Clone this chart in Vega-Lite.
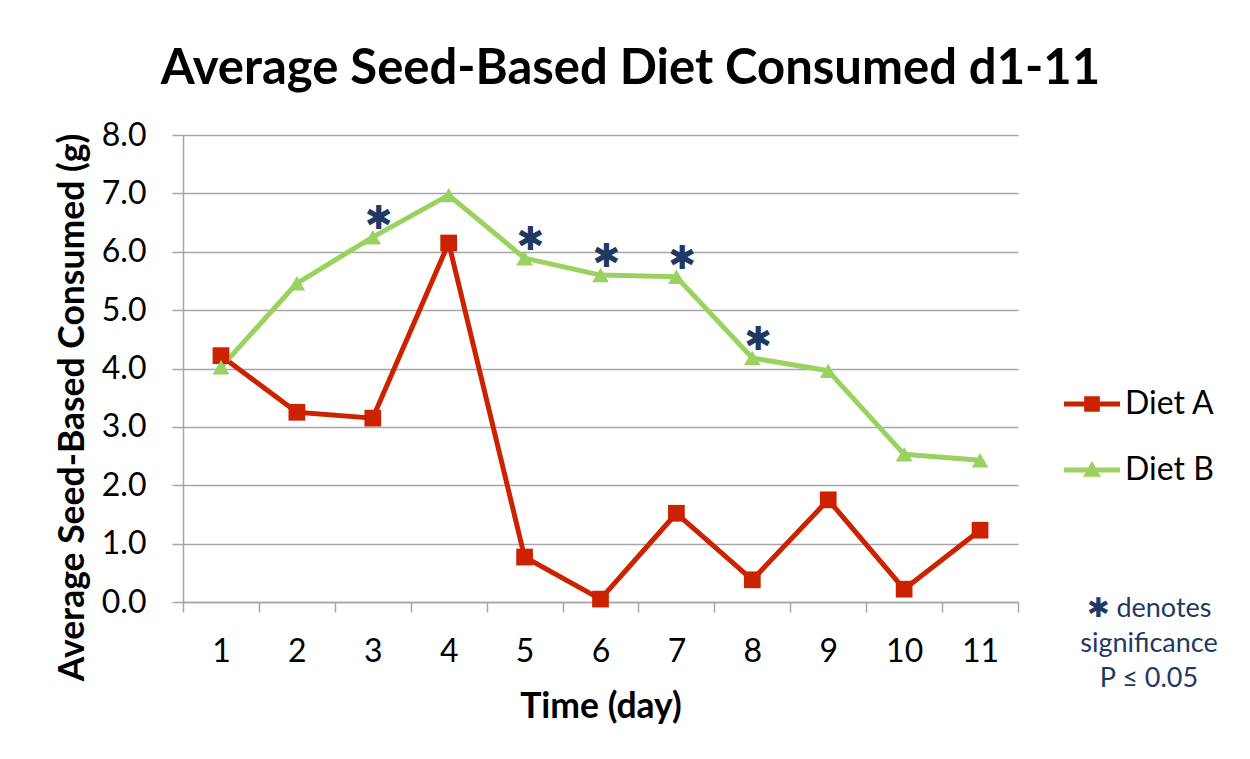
{
  "$schema": "https://vega.github.io/schema/vega-lite/v6.json",
  "width": 835,
  "height": 467,
  "autosize": {"type": "none"},
  "padding": {"left": 183, "top": 135, "right": 232, "bottom": 157},
  "background": "white",
  "config": {
    "font": "Lato",
    "view": {"stroke": null},
    "axis": {
      "gridColor": "#A6A6A6", "gridWidth": 1.5,
      "domainColor": "#A6A6A6", "domainWidth": 1.5,
      "tickColor": "#A6A6A6", "tickWidth": 1.5,
      "labelFont": "Lato", "labelFontSize": 32, "labelColor": "#000000",
      "titleFont": "Lato", "titleFontSize": 35.5, "titleFontWeight": "bold", "titleColor": "#000000"
    }
  },
  "title": {
    "text": "Average Seed-Based Diet Consumed d1-11",
    "font": "Lato", "fontSize": 49, "fontWeight": "bold", "color": "#000000",
    "anchor": "middle", "dx": 30, "baseline": "alphabetic", "offset": -14
  },
  "datasets": {
    "diets": [
      {"day": 1, "diet": "Diet A", "g": 4.22},
      {"day": 2, "diet": "Diet A", "g": 3.25},
      {"day": 3, "diet": "Diet A", "g": 3.15},
      {"day": 4, "diet": "Diet A", "g": 6.15},
      {"day": 5, "diet": "Diet A", "g": 0.77},
      {"day": 6, "diet": "Diet A", "g": 0.05},
      {"day": 7, "diet": "Diet A", "g": 1.52},
      {"day": 8, "diet": "Diet A", "g": 0.38},
      {"day": 9, "diet": "Diet A", "g": 1.75},
      {"day": 10, "diet": "Diet A", "g": 0.22},
      {"day": 11, "diet": "Diet A", "g": 1.23},
      {"day": 1, "diet": "Diet B", "g": 4.02},
      {"day": 2, "diet": "Diet B", "g": 5.46},
      {"day": 3, "diet": "Diet B", "g": 6.25},
      {"day": 4, "diet": "Diet B", "g": 6.97},
      {"day": 5, "diet": "Diet B", "g": 5.89},
      {"day": 6, "diet": "Diet B", "g": 5.60},
      {"day": 7, "diet": "Diet B", "g": 5.57},
      {"day": 8, "diet": "Diet B", "g": 4.18},
      {"day": 9, "diet": "Diet B", "g": 3.96},
      {"day": 10, "diet": "Diet B", "g": 2.53},
      {"day": 11, "diet": "Diet B", "g": 2.43}
    ],
    "stars": [
      {"day": 3, "g": 6.25, "note": "✱ denotes|significance|P ≤ 0.05"},
      {"day": 5, "g": 5.89, "note": "✱ denotes|significance|P ≤ 0.05"},
      {"day": 6, "g": 5.60, "note": "✱ denotes|significance|P ≤ 0.05"},
      {"day": 7, "g": 5.57, "note": "✱ denotes|significance|P ≤ 0.05"},
      {"day": 8, "g": 4.18, "note": "✱ denotes|significance|P ≤ 0.05"}
    ]
  },
  "encoding": {
    "x": {
      "field": "day", "type": "ordinal",
      "scale": {"type": "band", "paddingInner": 0, "paddingOuter": 0, "domain": [1,2,3,4,5,6,7,8,9,10,11]},
      "axis": {
        "title": "Time (day)", "labelAngle": 0, "tickBand": "extent", "tickSize": 10,
        "labelPadding": 24, "grid": false,
        "titleY": 115, "titleBaseline": "alphabetic"
      }
    },
    "y": {
      "field": "g", "type": "quantitative",
      "scale": {"domain": [0, 8], "nice": false},
      "axis": {
        "title": "Average Seed-Based Consumed (g)",
        "values": [0,1,2,3,4,5,6,7,8], "format": ".1f",
        "tickSize": 11, "labelPadding": 26, "grid": true,
        "titleX": -100, "titleY": 272, "titleAlign": "center", "titleBaseline": "alphabetic", "titleAngle": -90
      }
    }
  },
  "layer": [
    {
      "data": {"name": "diets"},
      "mark": {"type": "line", "strokeWidth": 5, "strokeJoin": "round", "strokeCap": "round"},
      "encoding": {
        "color": {"field": "diet", "type": "nominal", "scale": {"domain": ["Diet A", "Diet B"], "range": ["#CC2200", "#9BD160"]}, "legend": null}
      }
    },
    {
      "data": {"name": "diets"},
      "mark": {"type": "point", "filled": true, "opacity": 1, "size": 280},
      "encoding": {
        "color": {"field": "diet", "type": "nominal", "scale": {"domain": ["Diet A", "Diet B"], "range": ["#CC2200", "#9BD160"]}, "legend": null},
        "shape": {"field": "diet", "type": "nominal", "scale": {"domain": ["Diet A", "Diet B"], "range": ["square", "triangle-up"]}, "legend": null}
      }
    },
    {
      "data": {"name": "diets"},
      "transform": [{"filter": "datum.diet === 'Diet A'"}],
      "mark": {"type": "point", "filled": true, "opacity": 0, "shape": "M-1,-0.09H1V0.09H-1Z M-0.28,-0.28H0.28V0.28H-0.28Z"},
      "encoding": {
        "color": {
          "field": "diet", "type": "nominal",
          "scale": {"domain": ["Diet A"], "range": ["#CC2200"]},
          "legend": {
            "orient": "none", "legendX": 881, "legendY": 241, "title": null, "padding": 0,
            "labelFont": "Lato", "labelFontSize": 32, "labelColor": "#000000", "labelOffset": 5,
            "symbolType": "M-1,-0.09H1V0.09H-1Z M-0.28,-0.28H0.28V0.28H-0.28Z",
            "symbolStrokeWidth": 0, "symbolSize": 3136, "symbolOpacity": 1
          }
        }
      }
    },
    {
      "data": {"name": "diets"},
      "transform": [{"filter": "datum.diet === 'Diet B'"}],
      "mark": {"type": "point", "filled": true, "opacity": 0, "shape": "M-1,-0.09H1V0.09H-1Z M-0.32,0.24L0,-0.32L0.32,0.24Z"},
      "encoding": {
        "color": {
          "field": "diet", "type": "nominal",
          "scale": {"domain": ["Diet B"], "range": ["#9BD160"]},
          "legend": {
            "orient": "none", "legendX": 881, "legendY": 307, "title": null, "padding": 0,
            "labelFont": "Lato", "labelFontSize": 32, "labelColor": "#000000", "labelOffset": 5,
            "symbolType": "M-1,-0.09H1V0.09H-1Z M-0.32,0.24L0,-0.32L0.32,0.24Z",
            "symbolStrokeWidth": 0, "symbolSize": 3136, "symbolOpacity": 1
          }
        }
      }
    },
    {
      "data": {"name": "stars"},
      "mark": {"type": "text", "text": "✱", "font": "DejaVu Sans", "fontSize": 33, "dx": 6, "dy": -18, "baseline": "middle", "align": "center"},
      "encoding": {
        "color": {
          "field": "note", "type": "nominal",
          "scale": {"range": ["#1F3864"]},
          "legend": {
            "orient": "none", "legendX": 939, "legendY": 468, "title": null, "padding": 0,
            "symbolSize": 0, "symbolOpacity": 0, "labelOffset": 0,
            "labelAlign": "center", "labelBaseline": "alphabetic",
            "labelExpr": "split(datum.label, '|')",
            "labelFont": "Lato", "labelFontSize": 27, "labelColor": "#1F3864", "labelLimit": 0,
            "encode": {"labels": {"update": {"lineHeight": {"value": 35}}}}
          }
        }
      }
    }
  ],
  "resolve": {
    "scale": {"color": "independent"},
    "legend": {"color": "independent"}
  }
}
